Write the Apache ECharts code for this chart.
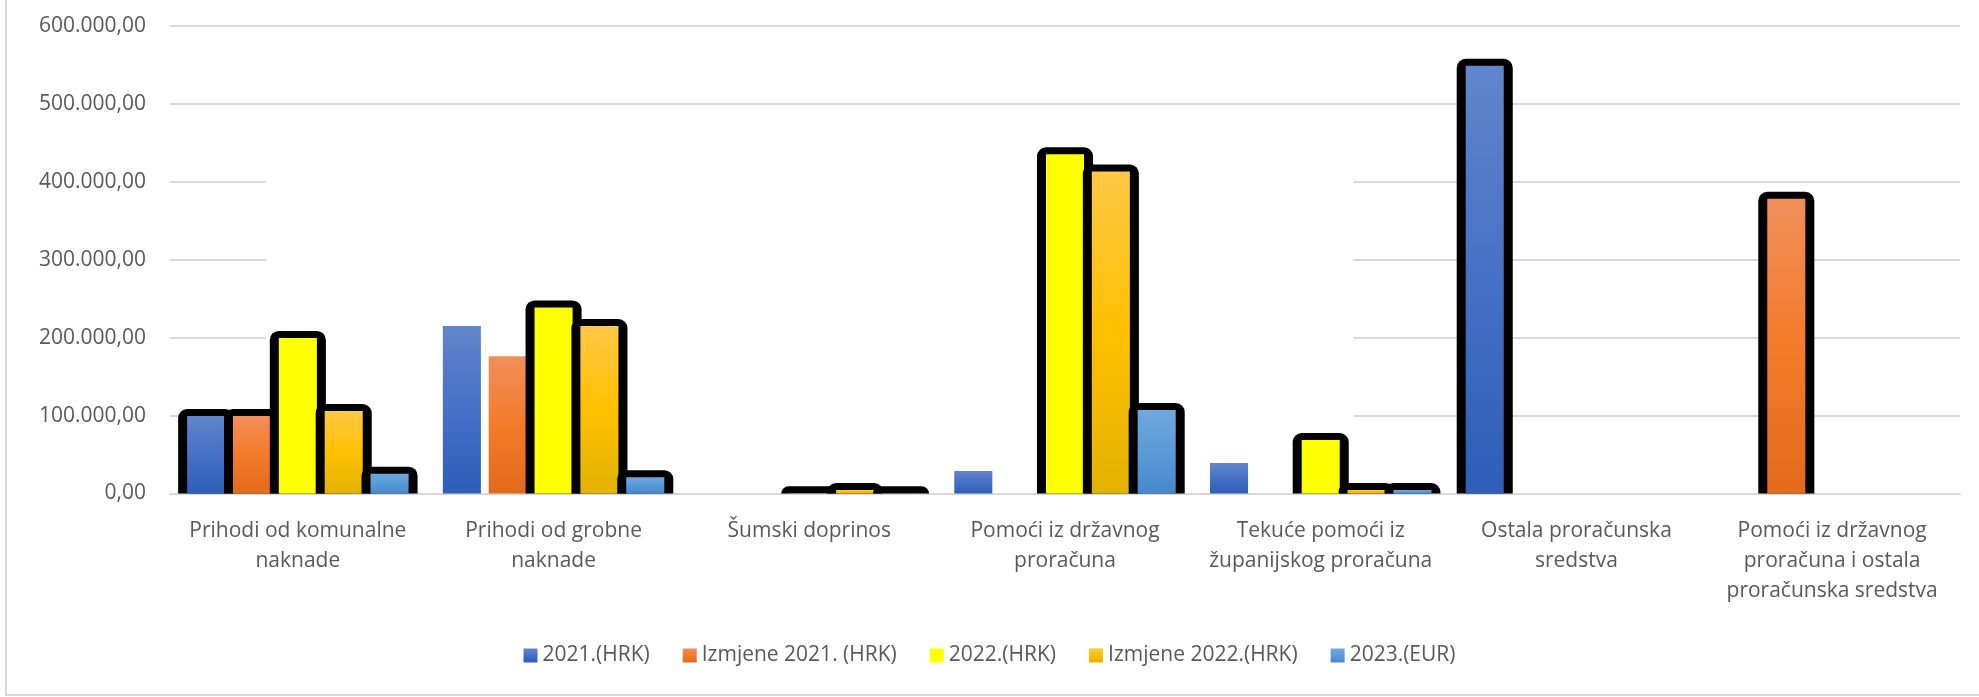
<!DOCTYPE html>
<html>
<head>
<meta charset="utf-8">
<script src="https://cdn.jsdelivr.net/npm/echarts@6/dist/echarts.min.js"></script>
<style>
  html, body { margin: 0; padding: 0; background: #fff; }
  #main { width: 1979px; height: 697px; }
</style>
</head>
<body>
<div id="main"></div>
<script>
// tick labels, wrapped as in the reference
var categories = [
  'Prihodi od komunalne\nnaknade',
  'Prihodi od grobne\nnaknade',
  'Šumski doprinos',
  'Pomoći iz državnog\nproračuna',
  'Tekuće pomoći iz\nžupanijskog proračuna',
  'Ostala proračunska\nsredstva',
  'Pomoći iz državnog\nproračuna i ostala\nproračunska sredstva'
];
var seriesNames = ['2021.(HRK)', 'Izmjene 2021. (HRK)', '2022.(HRK)', 'Izmjene 2022.(HRK)', '2023.(EUR)'];

var v2021 = [99400, 214700, 0, 28800, 39000, 548500, 0];
var vIzmjene2021 = [99400, 176000, 0, 0, 0, 0, 378000];
var v2022 = [199500, 238700, 300, 435000, 68600, 0, 0];
var vIzmjene2022 = [105800, 214700, 4500, 413000, 4500, 0, 0];
var v2023 = [25400, 21000, 300, 107000, 4500, 0, 0];

var yTicks = [0, 100000, 200000, 300000, 400000, 500000, 600000];

// which bars carry the thick black outline (1 = yes)
var out2021 = [1, 0, 0, 0, 0, 1, 0];
var outIzmjene2021 = [1, 0, 0, 0, 0, 0, 1];
var out2022 = [1, 1, 1, 1, 1, 0, 0];
var outIzmjene2022 = [1, 1, 1, 1, 1, 0, 0];
var out2023 = [1, 1, 1, 1, 1, 0, 0];

var GREY = '#595959';
var FONT = 'Open Sans';
var PITCH = 0.1793;   // bar step, share of category band
var BAR_W = 0.1488;   // bar width, share of category band
var OUT_X = 9;
var OUT_Y = 7;

function grad(top, mid, bottom) {
  return new echarts.graphic.LinearGradient(0, 0, 0, 1, [
    { offset: 0, color: top },
    { offset: 0.5, color: mid },
    { offset: 1, color: bottom }
  ]);
}
var colors = [
  grad('#6286cc', '#4570c6', '#2e5eb8'),
  grad('#f18e5a', '#f47b2a', '#e36a1b'),
  '#ffff00',
  grad('#ffc846', '#ffc000', '#e2b300'),
  grad('#70a8de', '#5b9ad8', '#4688cc')
];

function fmt(v) {
  return String(v).replace(/\B(?=(\d{3})+(?!\d))/g, '.') + ',00';
}

function build(vals, outs) {
  var arr = [];
  for (var i = 0; i < vals.length; i++) {
    arr.push([i, vals[i], outs[i]]);
  }
  return arr;
}

function renderBar(params, api) {
  var value = api.value(1);
  if (!value) {
    return;
  }
  var idx = api.value(0);
  var base = api.coord([idx, 0]);
  var top = api.coord([idx, value]);
  var band = api.size([1, 0])[0];
  var w = band * BAR_W;
  var cx = base[0] + (params.seriesIndex - 2) * band * PITCH;
  var x = cx - w / 2;
  var children = [];
  if (api.value(2)) {
    children.push({
      type: 'rect',
      shape: { x: x - OUT_X, y: top[1] - OUT_Y, width: w + 2 * OUT_X, height: base[1] - top[1] + OUT_Y, r: [9, 9, 0, 0] },
      style: { fill: '#000' }
    });
  }
  children.push({
    type: 'rect',
    shape: { x: x, y: top[1], width: w, height: base[1] - top[1] },
    style: { fill: api.visual('color') }
  });
  return { type: 'group', children: children };
}

var allVals = [v2021, vIzmjene2021, v2022, vIzmjene2022, v2023];
var allOuts = [out2021, outIzmjene2021, out2022, outIzmjene2022, out2023];
var series = [];
for (var s = 0; s < seriesNames.length; s++) {
  series.push({
    name: seriesNames[s],
    type: 'custom',
    renderItem: renderBar,
    itemStyle: { color: colors[s] },
    encode: { x: 0, y: 1 },
    data: build(allVals[s], allOuts[s])
  });
}

var frame = {
  type: 'rect',
  silent: true,
  shape: { x: 6, y: -5, width: 1990, height: 700 },
  style: { fill: 'none', stroke: '#d9d9d9', lineWidth: 2 }
};

var myChart = echarts.init(document.getElementById('main'));
var option = {
  animation: false,
  backgroundColor: '#fff',
  textStyle: { fontFamily: FONT },
  grid: { left: 170, right: 19, top: 25.7, bottom: 203.5 },
  legend: {
    data: seriesNames,
    bottom: 26,
    left: 'center',
    icon: 'rect',
    itemWidth: 14,
    itemHeight: 14,
    itemGap: 33,
    textStyle: { fontFamily: FONT, fontSize: 21, color: GREY }
  },
  xAxis: {
    type: 'category',
    data: categories,
    axisTick: { show: false },
    axisLine: { lineStyle: { color: '#d9d9d9', width: 2 } },
    axisLabel: {
      interval: 0,
      margin: 23,
      lineHeight: 30,
      fontFamily: FONT,
      fontSize: 21,
      color: GREY
    }
  },
  yAxis: {
    type: 'value',
    min: yTicks[0],
    max: yTicks[yTicks.length - 1],
    interval: yTicks[1] - yTicks[0],
    axisLine: { show: false },
    axisTick: { show: false },
    splitLine: { lineStyle: { color: '#d9d9d9', width: 2 } },
    axisLabel: {
      margin: 24,
      fontFamily: FONT,
      fontSize: 21,
      color: GREY,
      formatter: fmt
    }
  },
  graphic: [frame],
  series: series
};
myChart.setOption(option);

// the reference has a white patch hiding the lower gridlines over the middle groups
var c0 = myChart.convertToPixel({ xAxisIndex: 0 }, 0);
var c1 = myChart.convertToPixel({ xAxisIndex: 0 }, 1);
var bandPx = c1 - c0;
var yTop = myChart.convertToPixel({ yAxisIndex: 0 }, 450000);
var yBase = myChart.convertToPixel({ yAxisIndex: 0 }, 0);
myChart.setOption({
  graphic: [frame, {
    type: 'rect',
    silent: true,
    z: 1,
    shape: { x: c0 - 0.124 * bandPx, y: yTop, width: 4.252 * bandPx, height: yBase - yTop - 2 },
    style: { fill: '#fff' }
  }]
});
</script>
</body>
</html>
